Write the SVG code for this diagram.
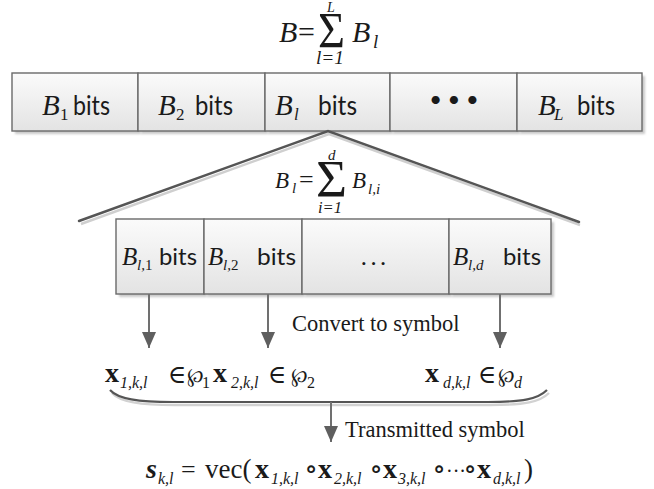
<svg xmlns="http://www.w3.org/2000/svg" width="654" height="489" viewBox="0 0 654 489">
<defs>
<linearGradient id="cellFill" x1="0" y1="0" x2="0" y2="1">
<stop offset="0" stop-color="#fbfbfb"/>
<stop offset="1" stop-color="#e3e3e3"/>
</linearGradient>
<filter id="shadow" x="-10%" y="-10%" width="130%" height="140%">
<feGaussianBlur stdDeviation="1.2"/>
</filter>
<marker id="arrowHead" markerWidth="16" markerHeight="14" refX="16" refY="7" orient="auto" markerUnits="userSpaceOnUse" viewBox="0 0 16 14">
<path d="M0,0 L16,7 L0,14 Z" fill="#5f5f5f"/>
</marker>
</defs>
<style>
.cell{fill:url(#cellFill);stroke:#6a6a6a;stroke-width:1.4}
.shd{fill:#c9c9c9;filter:url(#shadow)}
.mi{font-family:"Liberation Serif","Times New Roman",serif;font-style:italic;fill:#1a1a1a}
.rm{font-family:"Liberation Serif","Times New Roman",serif;fill:#1a1a1a}
.bf{font-family:"Liberation Serif","Times New Roman",serif;font-weight:bold;fill:#1a1a1a}
.sym{font-family:"DejaVu Serif","Liberation Serif",serif;fill:#1a1a1a}
.sans{font-family:Lato,"Open Sans","Liberation Sans",sans-serif;fill:#1a1a1a}
.line{fill:none;stroke:#555555;stroke-width:2.4;stroke-linecap:round}
.lineShd{fill:none;stroke:#cfcfcf;stroke-width:2.4}
.arrow{fill:none;stroke:#707070;stroke-width:2}
.lbl{font-family:"Liberation Serif","Times New Roman",serif;font-size:22.5px;fill:#1a1a1a}
</style>

<rect width="654" height="489" fill="#ffffff"/>

<!-- top formula -->
<g id="formula-B">
<text class="mi" x="279" y="42" font-size="30">B</text>
<text class="rm" x="298" y="42" font-size="30">=</text>
<text class="rm" x="318" y="47" font-size="51" textLength="27" lengthAdjust="spacingAndGlyphs">Σ</text>
<text class="mi" x="327" y="12" font-size="14">L</text>
<text class="mi" x="316" y="64" font-size="19" textLength="28" lengthAdjust="spacingAndGlyphs">l=1</text>
<text class="mi" x="352" y="42" font-size="30">B</text>
<text class="mi" x="373" y="48" font-size="19">l</text>
</g>

<!-- top bar -->
<g id="cell-B1">
<rect class="shd" x="15" y="76" width="126" height="58"/>
<rect class="cell" x="12" y="73" width="126" height="58"/>
<text class="mi" x="42" y="115" font-size="29">B</text>
<text class="rm" x="60" y="120" font-size="17">1</text>
<text class="sans" x="73" y="115" font-size="26" textLength="37" lengthAdjust="spacingAndGlyphs">bits</text>
</g>
<g id="cell-B2">
<rect class="shd" x="141" y="76" width="127" height="58"/>
<rect class="cell" x="138" y="73" width="127" height="58"/>
<text class="mi" x="158" y="115" font-size="29">B</text>
<text class="rm" x="176" y="120" font-size="17">2</text>
<text class="sans" x="195" y="115" font-size="26" textLength="38" lengthAdjust="spacingAndGlyphs">bits</text>
</g>
<g id="cell-Bl">
<rect class="shd" x="268" y="76" width="125" height="58"/>
<rect class="cell" x="265" y="73" width="125" height="58"/>
<text class="mi" x="275" y="115" font-size="29">B</text>
<text class="mi" x="294" y="120" font-size="17">l</text>
<text class="sans" x="318" y="115" font-size="26" textLength="39" lengthAdjust="spacingAndGlyphs">bits</text>
</g>
<g id="cell-dots">
<rect class="shd" x="393" y="76" width="127" height="58"/>
<rect class="cell" x="390" y="73" width="127" height="58"/>
<text class="sans" x="454" y="107" font-size="22" text-anchor="middle">• • •</text>
</g>
<g id="cell-BL">
<rect class="shd" x="520" y="76" width="125" height="58"/>
<rect class="cell" x="517" y="73" width="125" height="58"/>
<text class="mi" x="538" y="115" font-size="29">B</text>
<text class="mi" x="554" y="120" font-size="17">L</text>
<text class="sans" x="577" y="115" font-size="26" textLength="38" lengthAdjust="spacingAndGlyphs">bits</text>
</g>

<!-- second formula -->
<g id="formula-Bl">
<text class="mi" x="275" y="188" font-size="23">B</text>
<text class="mi" x="292" y="193" font-size="15">l</text>
<text class="rm" x="299" y="188" font-size="26">=</text>
<text class="rm" x="316" y="197" font-size="53" textLength="31" lengthAdjust="spacingAndGlyphs">Σ</text>
<text class="mi" x="328" y="160" font-size="15">d</text>
<text class="mi" x="318" y="213" font-size="17" textLength="24" lengthAdjust="spacingAndGlyphs">i=1</text>
<text class="mi" x="352" y="188" font-size="23">B</text>
<text class="mi" x="368" y="194" font-size="15">l,i</text>
</g>

<!-- lower bar -->
<g id="cell-Bl1">
<rect class="shd" x="119" y="222" width="88" height="75"/>
<rect class="cell" x="116" y="219" width="88" height="75"/>
<text class="mi" x="122" y="265" font-size="25">B</text>
<text class="mi" x="137" y="270" font-size="15">l,<tspan class="rm" font-style="normal">1</tspan></text>
<text class="sans" x="159" y="265" font-size="24" textLength="38" lengthAdjust="spacingAndGlyphs">bits</text>
</g>
<g id="cell-Bl2">
<rect class="shd" x="207" y="222" width="98" height="75"/>
<rect class="cell" x="204" y="219" width="98" height="75"/>
<text class="mi" x="208" y="265" font-size="25">B</text>
<text class="mi" x="223" y="270" font-size="15">l,<tspan class="rm" font-style="normal">2</tspan></text>
<text class="sans" x="257" y="265" font-size="24" textLength="39" lengthAdjust="spacingAndGlyphs">bits</text>
</g>
<g id="cell-ellipsis">
<rect class="shd" x="305" y="222" width="147" height="75"/>
<rect class="cell" x="302" y="219" width="147" height="75"/>
<text class="sans" x="361" y="265" font-size="24" textLength="25" lengthAdjust="spacing">...</text>
</g>
<g id="cell-Bld">
<rect class="shd" x="452" y="222" width="102" height="75"/>
<rect class="cell" x="449" y="219" width="102" height="75"/>
<text class="mi" x="453" y="265" font-size="25">B</text>
<text class="mi" x="468" y="270" font-size="15">l,d</text>
<text class="sans" x="503" y="265" font-size="24" textLength="38" lengthAdjust="spacingAndGlyphs">bits</text>
</g>

<!-- connectors -->
<g id="connectors">
<path class="lineShd" d="M81,224 L329,134 L580,225"/>
<path class="line" d="M79,221 L328,131 L579,222"/>
<line class="arrow" x1="149" y1="294" x2="149" y2="348" marker-end="url(#arrowHead)"/>
<line class="arrow" x1="268" y1="294" x2="268" y2="348" marker-end="url(#arrowHead)"/>
<line class="arrow" x1="500" y1="294" x2="500" y2="348" marker-end="url(#arrowHead)"/>
<path fill="none" stroke="#d2d2d2" stroke-width="2.4" d="M112,393 C120,402 140,405 175,405 L490,405 C525,405 540,402 549,393"/>
<path fill="none" stroke="#555555" stroke-width="2.2" d="M110,390 C118,399 138,402 173,402 L488,402 C523,402 538,399 547,390"/>
<line class="arrow" x1="331" y1="402" x2="331" y2="442" marker-end="url(#arrowHead)"/>
</g>

<!-- labels -->
<g id="label-convert">
<text class="lbl" x="292" y="331">Convert to symbol</text>
</g>
<g id="label-transmitted">
<text class="lbl" x="345" y="437">Transmitted symbol</text>
</g>

<!-- symbol row -->
<g id="symbol-1">
<text class="bf" x="105" y="382" font-size="28">x</text>
<text class="mi" x="120" y="388" font-size="16">1,k,l</text>
<text class="sym" x="177" y="383" font-size="25" text-anchor="middle">∈</text>
<text class="sym" x="195" y="382" font-size="20" text-anchor="middle">℘</text>
<text class="rm" x="202" y="388" font-size="16">1</text>
</g>
<g id="symbol-2">
<text class="bf" x="213" y="382" font-size="28">x</text>
<text class="mi" x="231" y="388" font-size="16">2,k,l</text>
<text class="sym" x="277" y="383" font-size="25" text-anchor="middle">∈</text>
<text class="sym" x="299" y="382" font-size="20" text-anchor="middle">℘</text>
<text class="rm" x="307" y="388" font-size="16">2</text>
</g>
<g id="symbol-d">
<text class="bf" x="425" y="382" font-size="28">x</text>
<text class="mi" x="443" y="388" font-size="16">d,k,l</text>
<text class="sym" x="487" y="383" font-size="25" text-anchor="middle">∈</text>
<text class="sym" x="506" y="382" font-size="20" text-anchor="middle">℘</text>
<text class="mi" x="514" y="388" font-size="16">d</text>
</g>

<!-- bottom formula -->
<g id="formula-s">
<text class="bf" x="146" y="478" font-size="28" font-style="italic">s</text>
<text class="mi" x="158" y="484" font-size="16">k,l</text>
<text class="rm" x="181" y="478" font-size="26">=</text>
<text class="rm" x="205" y="478" font-size="27">vec(</text>
<text class="bf" x="255" y="478" font-size="28">x</text>
<text class="mi" x="271" y="484" font-size="16">1,k,l</text>
<text class="sym" x="311" y="478" font-size="28" text-anchor="middle">∘</text>
<text class="bf" x="318" y="478" font-size="28">x</text>
<text class="mi" x="334" y="484" font-size="16">2,k,l</text>
<text class="sym" x="376" y="478" font-size="28" text-anchor="middle">∘</text>
<text class="bf" x="383" y="478" font-size="28">x</text>
<text class="mi" x="398" y="484" font-size="16">3,k,l</text>
<text class="sym" x="439" y="478" font-size="28" text-anchor="middle">∘</text>
<text class="rm" x="446" y="478" font-size="20">···</text>
<text class="sym" x="470" y="478" font-size="28" text-anchor="middle">∘</text>
<text class="bf" x="477" y="478" font-size="28">x</text>
<text class="mi" x="493" y="484" font-size="16">d,k,l</text>
<text class="rm" x="524" y="478" font-size="27">)</text>
</g>
</svg>
